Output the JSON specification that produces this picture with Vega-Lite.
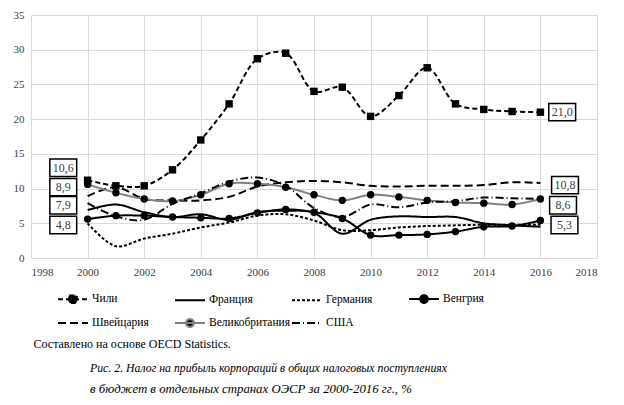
{
  "$schema": "https://vega.github.io/schema/vega-lite/v6.json",
  "width": 566,
  "height": 243,
  "autosize": {"type": "none"},
  "padding": {"left": 31, "top": 15, "right": 27, "bottom": 147},
  "background": "white",
  "datasets": {
    "main": [
      {"year": 2000, "Чили": 11.2, "Франция": 6.9, "Германия": 5.0, "Венгрия": 5.6, "Швейцария": 8.9, "Великобритания": 10.6, "США": 7.9},
      {"year": 2001, "Чили": 10.4, "Франция": 7.7, "Германия": 1.7, "Венгрия": 6.1, "Швейцария": 10.2, "Великобритания": 9.4, "США": 6.0},
      {"year": 2002, "Чили": 10.4, "Франция": 6.6, "Германия": 2.8, "Венгрия": 6.1, "Швейцария": 8.5, "Великобритания": 8.5, "США": 5.5},
      {"year": 2003, "Чили": 12.7, "Франция": 5.9, "Германия": 3.5, "Венгрия": 5.9, "Швейцария": 8.3, "Великобритания": 8.2, "США": 7.8},
      {"year": 2004, "Чили": 17.0, "Франция": 6.3, "Германия": 4.4, "Венгрия": 5.8, "Швейцария": 8.3, "Великобритания": 9.1, "США": 9.3},
      {"year": 2005, "Чили": 22.2, "Франция": 5.5, "Германия": 5.1, "Венгрия": 5.7, "Швейцария": 8.8, "Великобритания": 10.7, "США": 11.0},
      {"year": 2006, "Чили": 28.7, "Франция": 6.6, "Германия": 6.1, "Венгрия": 6.5, "Швейцария": 10.3, "Великобритания": 10.7, "США": 11.6},
      {"year": 2007, "Чили": 29.5, "Франция": 6.8, "Германия": 6.3, "Венгрия": 7.0, "Швейцария": 10.9, "Великобритания": 10.2, "США": 10.4},
      {"year": 2008, "Чили": 24.0, "Франция": 6.5, "Германия": 5.4, "Венгрия": 6.6, "Швейцария": 11.1, "Великобритания": 9.1, "США": 7.2},
      {"year": 2009, "Чили": 24.6, "Франция": 3.5, "Германия": 4.0, "Венгрия": 5.7, "Швейцария": 10.9, "Великобритания": 8.3, "США": 5.9},
      {"year": 2010, "Чили": 20.4, "Франция": 5.5, "Германия": 4.0, "Венгрия": 3.3, "Швейцария": 10.4, "Великобритания": 9.1, "США": 7.7},
      {"year": 2011, "Чили": 23.4, "Франция": 6.0, "Германия": 4.4, "Венгрия": 3.3, "Швейцария": 10.3, "Великобритания": 8.8, "США": 7.3},
      {"year": 2012, "Чили": 27.4, "Франция": 5.9, "Германия": 4.6, "Венгрия": 3.4, "Швейцария": 10.4, "Великобритания": 8.3, "США": 8.0},
      {"year": 2013, "Чили": 22.2, "Франция": 5.9, "Германия": 4.7, "Венгрия": 3.8, "Швейцария": 10.4, "Великобритания": 8.0, "США": 8.2},
      {"year": 2014, "Чили": 21.4, "Франция": 5.0, "Германия": 4.8, "Венгрия": 4.5, "Швейцария": 10.5, "Великобритания": 7.9, "США": 8.7},
      {"year": 2015, "Чили": 21.1, "Франция": 4.7, "Германия": 4.8, "Венгрия": 4.6, "Швейцария": 10.9, "Великобритания": 7.7, "США": 8.6},
      {"year": 2016, "Чили": 21.0, "Франция": 4.5, "Германия": 4.8, "Венгрия": 5.4, "Швейцария": 10.8, "Великобритания": 8.5, "США": 8.5}
    ],
    "labels": [
      {"year": 1999.14, "value": 13.0, "label": "10,6"},
      {"year": 1999.14, "value": 10.2, "label": "8,9"},
      {"year": 1999.14, "value": 7.6, "label": "7,9"},
      {"year": 1999.14, "value": 4.75, "label": "4,8"},
      {"year": 2016.77, "value": 21.0, "label": "21,0"},
      {"year": 2016.87, "value": 10.5, "label": "10,8"},
      {"year": 2016.8, "value": 7.6, "label": "8,6"},
      {"year": 2016.85, "value": 4.75, "label": "5,3"}
    ]
  },
  "config": {
    "view": {"stroke": null},
    "axis": {
      "labelFont": "Liberation Serif",
      "labelFontSize": 11,
      "labelColor": "#404040",
      "labelOverlap": false,
      "gridColor": "#d9d9d9",
      "gridWidth": 1,
      "domain": false,
      "ticks": false
    },
    "legend": {
      "labelFont": "Liberation Serif",
      "labelFontSize": 11.5,
      "labelColor": "black",
      "symbolSize": 900,
      "symbolStrokeWidth": 2,
      "columns": 4,
      "direction": "horizontal",
      "gridAlign": "all",
      "columnPadding": -12,
      "rowPadding": -6,
      "labelOffset": 3,
      "padding": 0
    }
  },
  "title": {
    "text": "Рис. 2. Налог на прибыль корпораций в общих налоговых поступлениях",
    "subtitle": "в бюджет в отдельных странах ОЭСР за 2000-2016 гг., %",
    "orient": "bottom",
    "anchor": "start",
    "frame": "group",
    "dx": 59,
    "offset": 14,
    "font": "Liberation Serif",
    "fontSize": 11.8,
    "fontStyle": "italic",
    "fontWeight": "normal",
    "color": "black",
    "subtitleFont": "Liberation Serif",
    "subtitleFontSize": 12.8,
    "subtitleFontStyle": "italic",
    "subtitleColor": "black",
    "subtitlePadding": 8
  },
  "encoding": {
    "x": {
      "field": "year", "type": "quantitative",
      "scale": {"domain": [1998, 2018], "nice": false, "zero": false},
      "axis": {
        "values": [1998, 2000, 2002, 2004, 2006, 2008, 2010, 2012, 2014, 2016, 2018],
        "format": "d", "labelPadding": 8,
        "title": "Составлено на основе OECD Statistics.",
        "titleFont": "Liberation Serif", "titleFontSize": 12, "titleFontWeight": "normal",
        "titleColor": "black", "titleAlign": "left", "titleBaseline": "alphabetic",
        "titleX": 2, "titleY": 89
      }
    },
    "y": {
      "field": "value", "type": "quantitative",
      "scale": {"domain": [0, 35], "nice": false},
      "axis": {"values": [0, 5, 10, 15, 20, 25, 30, 35], "tickCount": 8, "title": null, "labelPadding": 7}
    }
  },
  "layer": [
    {
      "data": {"name": "main"},
      "transform": [{"fold": ["Чили", "Франция", "Германия", "Венгрия", "Швейцария", "Великобритания", "США"], "as": ["country", "value"]}],
      "mark": {"type": "line", "interpolate": "catmull-rom"},
      "encoding": {
        "color": {
          "field": "country", "type": "nominal",
          "scale": {
            "domain": ["Чили", "Франция", "Германия", "Венгрия", "Швейцария", "Великобритания", "США"],
            "range": ["black", "black", "black", "black", "black", "#808080", "black"]
          },
          "legend": {
            "title": null,
            "orient": "none",
            "direction": "horizontal",
            "legendX": 26,
            "legendY": 268,
            "encode": {
              "symbols": {
                "update": {
                  "shape": {"signal": "datum.value === 'Чили' ? 'M-1,0H1M-0.25,-0.25H0.25V0.25H-0.25Z' : (datum.value === 'Венгрия' || datum.value === 'Великобритания') ? 'M-1,0H1M-0.26,0A0.26,0.26 0 1,0 0.26,0A0.26,0.26 0 1,0 -0.26,0' : 'M-1,0H1'"},
                  "fill": {"signal": "(datum.value === 'Чили' || datum.value === 'Венгрия' || datum.value === 'Великобритания') ? 'black' : 'transparent'"}
                }
              }
            }
          }
        },
        "strokeDash": {
          "field": "country", "type": "nominal",
          "scale": {
            "domain": ["Чили", "Франция", "Германия", "Венгрия", "Швейцария", "Великобритания", "США"],
            "range": [[5, 3], [1, 0], [3, 2], [1, 0], [8, 4], [1, 0], [8, 3, 1, 3]]
          }
        },
        "strokeWidth": {
          "field": "country", "type": "nominal",
          "scale": {
            "domain": ["Чили", "Франция", "Германия", "Венгрия", "Швейцария", "Великобритания", "США"],
            "range": [2, 2, 2, 2, 2, 2.6, 1.6]
          },
          "legend": null
        }
      }
    },
    {
      "data": {"name": "main"},
      "transform": [{"fold": ["Чили", "Венгрия", "Великобритания"], "as": ["country", "value"]}],
      "mark": {"type": "point", "filled": true, "color": "black", "size": 55, "opacity": 1},
      "encoding": {
        "shape": {
          "field": "country", "type": "nominal",
          "scale": {"domain": ["Чили", "Венгрия", "Великобритания"], "range": ["square", "circle", "circle"]},
          "legend": null
        }
      }
    },
    {
      "data": {"name": "labels"},
      "mark": {"type": "point", "shape": "M-1.55,-1H1.55V1H-1.55Z", "size": 300, "filled": false, "fill": "white", "fillOpacity": 1, "stroke": "black", "strokeWidth": 1.5, "opacity": 1}
    },
    {
      "data": {"name": "labels"},
      "mark": {"type": "text", "font": "Liberation Serif", "fontSize": 12, "color": "#404040"},
      "encoding": {
        "text": {"field": "label"}
      }
    }
  ]
}
